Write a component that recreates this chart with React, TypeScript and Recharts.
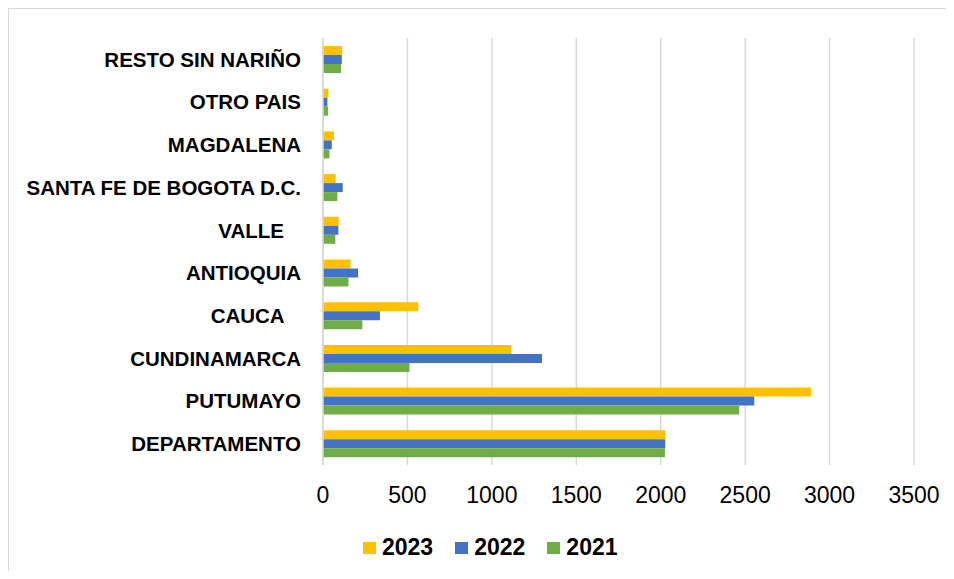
import React from 'react';
import { BarChart, Bar, XAxis, YAxis, CartesianGrid, Legend } from 'recharts';

const categories = [
  'RESTO SIN NARIÑO',
  'OTRO PAIS',
  'MAGDALENA',
  'SANTA FE DE BOGOTA D.C.',
  'VALLE   ',
  'ANTIOQUIA',
  'CAUCA   ',
  'CUNDINAMARCA',
  'PUTUMAYO',
  'DEPARTAMENTO',
];
const values2023 = [113, 32, 65, 75, 93, 163, 564, 1114, 2891, 2027];
const values2022 = [111, 26, 52, 117, 91, 208, 337, 1297, 2554, 2027];
const values2021 = [107, 30, 38, 85, 73, 151, 233, 512, 2465, 2025];
const xTicks = [0, 500, 1000, 1500, 2000, 2500, 3000, 3500];

const seriesNames = ['2023', '2022', '2021'];
const colors = ['#FFC000', '#4472C4', '#70AD47'];

const data = categories.map((c, i) => ({
  name: c,
  y2023: values2023[i],
  y2022: values2022[i],
  y2021: values2021[i],
}));

const FONT = '"Liberation Sans", Arial, sans-serif';

const YTick = (props: any) => {
  const { x, y, payload } = props;
  return (
    <text
      x={x}
      y={y}
      dy="0.36em"
      textAnchor="end"
      fontFamily={FONT}
      fontWeight="bold"
      fontSize={20.5}
      fill="#000"
      style={{ whiteSpace: 'pre' }}
    >
      {payload.value}
    </text>
  );
};

const LegendContent = () => (
  <div
    style={{
      display: 'flex',
      alignItems: 'center',
      paddingLeft: 354,
      paddingTop: 19,
      fontFamily: FONT,
      fontWeight: 'bold',
      fontSize: 23,
      color: '#000',
    }}
  >
    {seriesNames.map((s, i) => (
      <div key={s} style={{ display: 'flex', alignItems: 'center', marginRight: 22 }}>
        <span style={{ display: 'inline-block', width: 13, height: 12, background: colors[i], marginRight: 6 }} />
        <span>{s}</span>
      </div>
    ))}
  </div>
);

export default function App() {
  return (
    <div
      style={{
        width: 938,
        height: 563,
        boxSizing: 'border-box',
        borderTop: '1px solid #d9d9d9',
        borderLeft: '1px solid #d9d9d9',
        overflow: 'hidden',
        background: '#fff',
      }}
    >
      <BarChart
        width={937}
        height={562}
        data={data}
        layout="vertical"
        margin={{ top: 29, right: 32, bottom: 0, left: 0 }}
        barSize={9}
        barGap={0}
      >
        <CartesianGrid horizontal={false} stroke="#d9d9d9" strokeWidth={1.5} />
        <XAxis
          type="number"
          domain={[0, 3500]}
          ticks={xTicks}
          axisLine={false}
          tickLine={false}
          tickSize={0}
          tickMargin={22}
          height={50}
          tick={{ fontFamily: FONT, fontSize: 23, fill: '#000' }}
        />
        <YAxis
          type="category"
          dataKey="name"
          width={314}
          axisLine={{ stroke: '#d9d9d9', strokeWidth: 1.5 }}
          tickLine={false}
          tickSize={0}
          tickMargin={22}
          tick={<YTick />}
          interval={0}
        />
        <Legend verticalAlign="bottom" height={56} content={<LegendContent />} wrapperStyle={{ left: 0, width: 937, bottom: 0 }} />
        <Bar dataKey="y2023" name="2023" fill={colors[0]} isAnimationActive={false} />
        <Bar dataKey="y2022" name="2022" fill={colors[1]} isAnimationActive={false} />
        <Bar dataKey="y2021" name="2021" fill={colors[2]} isAnimationActive={false} />
      </BarChart>
    </div>
  );
}
